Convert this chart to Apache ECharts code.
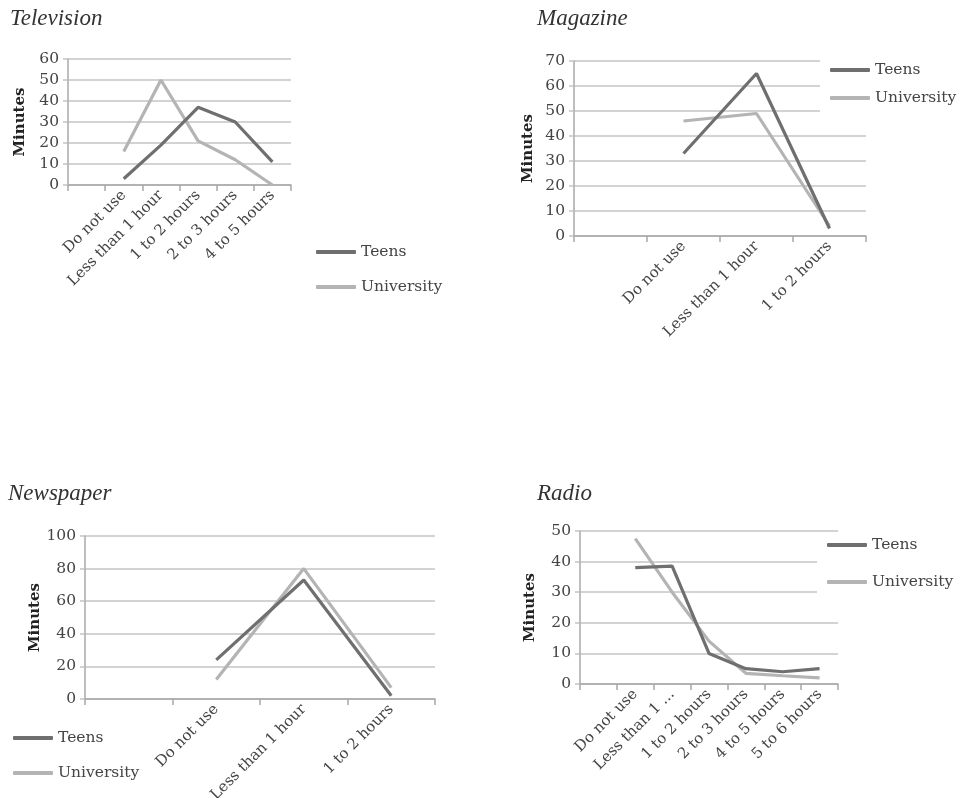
<!DOCTYPE html>
<html>
<head>
<meta charset="utf-8">
<script src="https://cdn.jsdelivr.net/npm/echarts@6/dist/echarts.min.js"></script>
<style>
  html, body { margin: 0; padding: 0; background: #fff; }
  #chart { width: 960px; height: 798px; }
</style>
</head>
<body>
<div id="chart"></div>
<script>
// Categories (leading blank slot keeps the first cell empty on each axis)
const tvCategories = ['', 'Do not use', 'Less than 1 hour', '1 to 2 hours', '2 to 3 hours', '4 to 5 hours'];
const tvTeens = [null, 3, 19, 37, 30, 11];
const tvUniversity = [null, 16, 50, 21, 12, 0];

const magCategories = ['', 'Do not use', 'Less than 1 hour', '1 to 2 hours'];
const magTeens = [null, 33, 65, 3];
const magUniversity = [null, 46, 49, 4];

const newsCategories = ['', 'Do not use', 'Less than 1 hour', '1 to 2 hours'];
const newsTeens = [null, 24, 73, 2];
const newsUniversity = [null, 12, 80, 7];

const radioCategories = ['', 'Do not use', 'Less than 1 ...', '1 to 2 hours', '2 to 3 hours', '4 to 5 hours', '5 to 6 hours'];
const radioTeens = [null, 38, 38.5, 10, 5, 4, 5];
const radioUniversity = [null, 47.5, 30, 14, 3.5, 2.7, 2];

const panelTitles = ['Television', 'Magazine', 'Newspaper', 'Radio'];
const seriesNames = ['Teens', 'University'];

const TEENS_COLOR = '#6f6f6f';
const UNI_COLOR = '#b4b4b4';
const GRID_COLOR = '#c4c4c4';
const AXIS_COLOR = '#a8a8a8';
const TEXT_COLOR = '#444';
const TITLE_FONT = '"Liberation Serif", "DejaVu Serif", serif';
const BODY_FONT = '"DejaVu Serif", "Liberation Serif", serif';

const panels = [
  { cats: tvCategories, teens: tvTeens, uni: tvUniversity, max: 60, step: 10,
    grid: { left: 68, top: 59, width: 223, height: 126 }, nameGap: 40,
    title: { left: 10, top: 7 },
    legend: { left: 312, top: 240, itemGap: 19, padding: [4, 4, 4, 4] } },
  { cats: magCategories, teens: magTeens, uni: magUniversity, max: 70, step: 10,
    grid: { left: 574, top: 61, width: 292, height: 175 }, nameGap: 38,
    title: { left: 537, top: 7 },
    legend: { left: 820, top: 58, itemGap: 12, padding: [4, 2, 6, 10] } },
  { cats: newsCategories, teens: newsTeens, uni: newsUniversity, max: 100, step: 20,
    grid: { left: 85, top: 536, width: 350, height: 163 }, nameGap: 38,
    title: { left: 8, top: 482 },
    legend: { left: 9, top: 726, itemGap: 19, padding: [4, 4, 4, 4] } },
  { cats: radioCategories, teens: radioTeens, uni: radioUniversity, max: 50, step: 10,
    grid: { left: 580, top: 531, width: 258, height: 153 }, nameGap: 42,
    title: { left: 537, top: 482 },
    legend: { left: 817, top: 533, itemGap: 21, padding: [4, 2, 6, 10] } }
];

const option = {
  backgroundColor: '#fff',
  animation: false,
  title: panels.map((p, i) => ({
    text: panelTitles[i],
    left: p.title.left,
    top: p.title.top,
    padding: 0,
    textStyle: { fontFamily: TITLE_FONT, fontStyle: 'italic', fontWeight: 'normal', fontSize: 23, color: '#333' }
  })),
  // fixed plot rectangles; labels may run to the canvas edge
  grid: panels.map(p => Object.assign({ containLabel: false, outerBoundsMode: 'none' }, p.grid)),
  xAxis: panels.map((p, i) => ({
    type: 'category',
    gridIndex: i,
    data: p.cats,
    boundaryGap: true,
    axisLine: { show: true, lineStyle: { color: AXIS_COLOR, width: 1.5 } },
    axisTick: { show: true, alignWithLabel: false, length: 6, lineStyle: { color: AXIS_COLOR, width: 1.5 } },
    axisLabel: { interval: 0, rotate: 45, margin: 8, fontFamily: BODY_FONT, fontSize: 15, color: TEXT_COLOR },
    splitLine: { show: false }
  })),
  yAxis: panels.map((p, i) => ({
    type: 'value',
    gridIndex: i,
    min: 0,
    max: p.max,
    interval: p.step,
    name: 'Minutes',
    nameLocation: 'middle',
    nameRotate: 90,
    nameGap: p.nameGap,
    nameTextStyle: { fontFamily: BODY_FONT, fontWeight: 'bold', fontSize: 15, color: '#222' },
    axisLine: { show: true, lineStyle: { color: AXIS_COLOR, width: 1.5 } },
    axisTick: { show: true, length: 5, lineStyle: { color: GRID_COLOR, width: 1.5 } },
    axisLabel: { margin: 9, fontFamily: BODY_FONT, fontSize: 15.5, color: TEXT_COLOR },
    splitLine: { show: true, lineStyle: { color: GRID_COLOR, width: 1.5 } }
  })),
  legend: panels.map(p => ({
    orient: 'vertical',
    left: p.legend.left,
    top: p.legend.top,
    itemGap: p.legend.itemGap,
    padding: p.legend.padding,
    backgroundColor: '#fff',
    icon: 'roundRect',
    itemWidth: 40,
    itemHeight: 4,
    selectedMode: false,
    data: seriesNames,
    textStyle: { fontFamily: BODY_FONT, fontSize: 15.5, color: TEXT_COLOR }
  })),
  series: []
};

panels.forEach((p, i) => {
  [[seriesNames[0], p.teens, TEENS_COLOR], [seriesNames[1], p.uni, UNI_COLOR]].forEach(([name, values, color]) => {
    option.series.push({
      name: name,
      type: 'line',
      xAxisIndex: i,
      yAxisIndex: i,
      data: values,
      showSymbol: false,
      symbol: 'none',
      connectNulls: false,
      itemStyle: { color: color },
      lineStyle: { color: color, width: 3.2 },
      z: name === 'Teens' ? 3 : 2
    });
  });
});

const chart = echarts.init(document.getElementById('chart'), null, { renderer: 'canvas' });
chart.setOption(option);
</script>
</body>
</html>
